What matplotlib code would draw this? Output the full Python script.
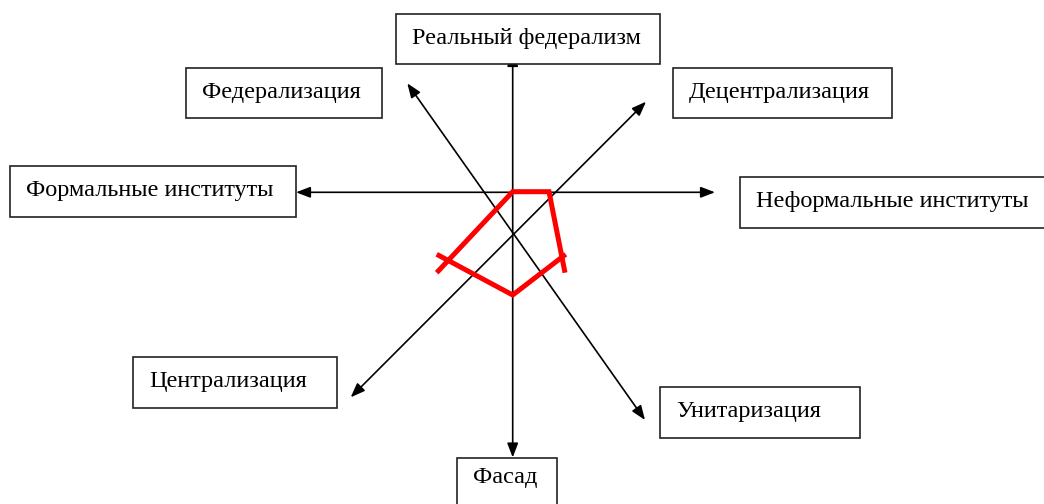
import matplotlib.pyplot as plt
from matplotlib.patches import Rectangle, FancyArrowPatch

# box captions
labels = ['Реальный федерализм', 'Федерализация', 'Децентрализация',
          'Формальные институты', 'Неформальные институты',
          'Централизация', 'Унитаризация', 'Фасад']

# red profile, two strokes (diagram pixel coords)
red1_x = [436.7, 512.7, 549.0, 565.0]
red1_y = [272.7, 191.7, 191.7, 272.7]
red2_x = [565.7, 512.7, 436.7]
red2_y = [254.3, 295.0, 254.3]

# layout
box_l = [396, 186, 673, 10, 740, 133, 660, 457]
box_t = [14, 68, 68, 166, 177, 357, 387, 458]
box_r = [660, 382, 892, 296, 1060, 337, 860, 557]
box_b = [64, 118, 118, 217, 228, 408, 438, 520]
text_dy = [30, 30, 30, 30, 30, 30, 30, 25]

arrow_a = [(512.7, 52), (296, 192.3), (646, 101.7), (407.3, 83.3)]
arrow_b = [(512.7, 457.5), (715, 192.3), (350.7, 397.3), (645, 420)]

W, H = 1044, 504
fig = plt.figure(figsize=(W / 100, H / 100), dpi=100)
ax = fig.add_axes([0, 0, 1, 1])
ax.set_xlim(0, W)
ax.set_ylim(H, 0)
ax.axis('off')

style = '<|-|>,head_length=0.86,head_width=0.33'
for a, b in zip(arrow_a, arrow_b):
    ar = FancyArrowPatch(a, b, arrowstyle=style, mutation_scale=10,
                         color='black', lw=1.2, shrinkA=0, shrinkB=0, zorder=2)
    ax.add_patch(ar)

ax.plot(red1_x, red1_y, color='#ff0000', lw=3.6, solid_joinstyle='miter',
        solid_capstyle='butt', zorder=3)
ax.plot(red2_x, red2_y, color='#ff0000', lw=3.6, solid_joinstyle='miter',
        solid_capstyle='butt', zorder=3)

for i, lab in enumerate(labels):
    rect = Rectangle((box_l[i], box_t[i]), box_r[i] - box_l[i], box_b[i] - box_t[i],
                     facecolor='white', edgecolor='#222222', lw=1.2, zorder=4)
    ax.add_patch(rect)
    ax.text(box_l[i] + 16, box_t[i] + text_dy[i], lab, fontsize=17.5,
            family='Liberation Serif', ha='left', va='baseline', zorder=5)

fig.savefig('out.png', dpi=100)
